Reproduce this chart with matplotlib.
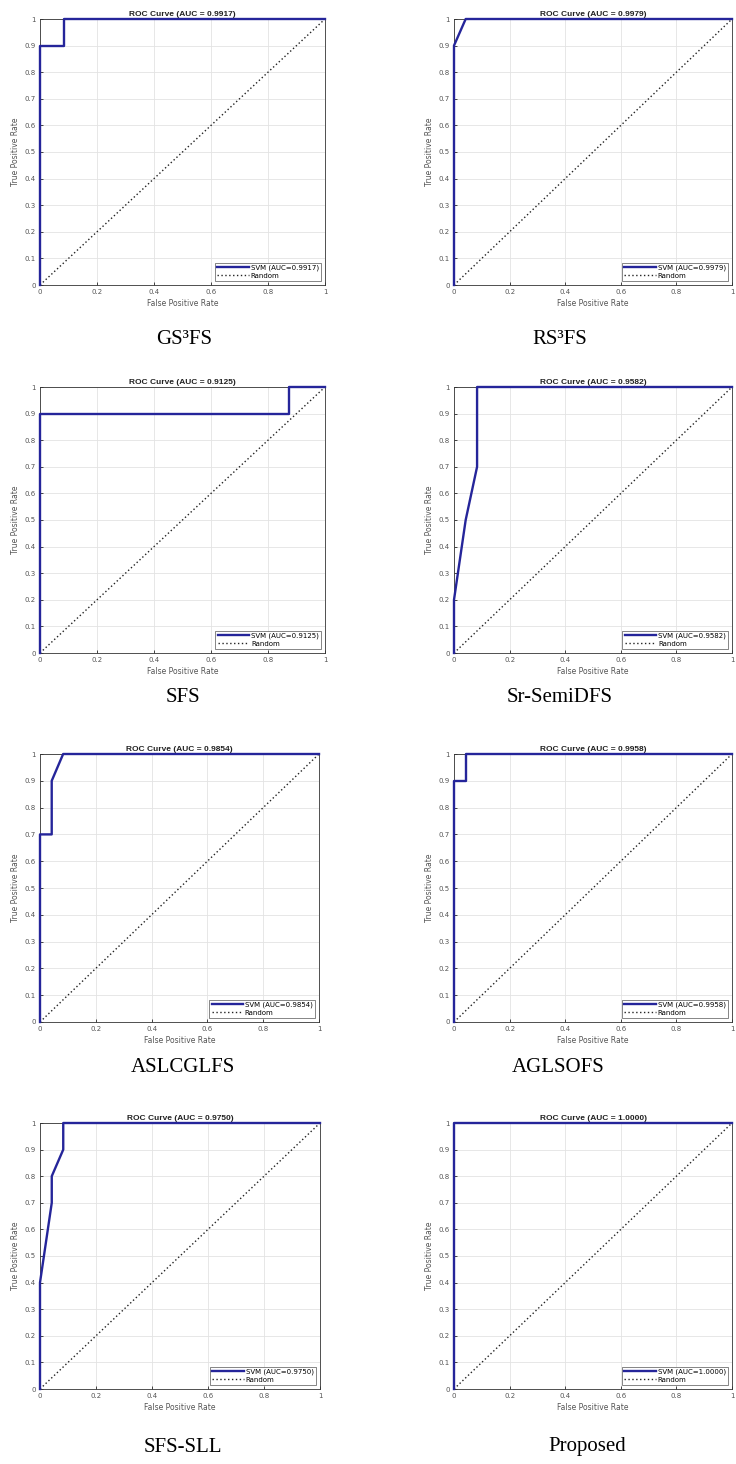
import numpy as np
import matplotlib
matplotlib.use('Agg')
import matplotlib.pyplot as plt

# data
methods = ['GS³FS', 'RS³FS', 'SFS', 'Sr-SemiDFS',
           'ASLCGLFS', 'AGLSOFS', 'SFS-SLL', 'Proposed']
auc_values = [0.9917, 0.9979, 0.9125, 0.9582, 0.9854, 0.9958, 0.9750, 1.0000]

fpr_gs3fs = [0, 0, 0.083, 0.083, 1]
tpr_gs3fs = [0, 0.9, 0.9, 1, 1]
fpr_rs3fs = [0, 0, 0.042, 1]
tpr_rs3fs = [0, 0.9, 1, 1]
fpr_sfs = [0, 0, 0.875, 0.875, 1]
tpr_sfs = [0, 0.9, 0.9, 1, 1]
fpr_srsemi = [0, 0, 0.042, 0.083, 0.083, 1]
tpr_srsemi = [0, 0.2, 0.5, 0.7, 1, 1]
fpr_aslcgl = [0, 0, 0.042, 0.042, 0.083, 1]
tpr_aslcgl = [0, 0.7, 0.7, 0.9, 1, 1]
fpr_aglsofs = [0, 0, 0.042, 0.042, 1]
tpr_aglsofs = [0, 0.9, 0.9, 1, 1]
fpr_sfssll = [0, 0, 0.042, 0.042, 0.083, 0.083, 1]
tpr_sfssll = [0, 0.4, 0.7, 0.8, 0.9, 1, 1]
fpr_prop = [0, 0, 1]
tpr_prop = [0, 1, 1]

fprs = [fpr_gs3fs, fpr_rs3fs, fpr_sfs, fpr_srsemi,
        fpr_aslcgl, fpr_aglsofs, fpr_sfssll, fpr_prop]
tprs = [tpr_gs3fs, tpr_rs3fs, tpr_sfs, tpr_srsemi,
        tpr_aslcgl, tpr_aglsofs, tpr_sfssll, tpr_prop]

x_ticks = [0, 0.2, 0.4, 0.6, 0.8, 1]
y_ticks = [0, 0.1, 0.2, 0.3, 0.4, 0.5, 0.6, 0.7, 0.8, 0.9, 1]

# layout in pixels: (left, right, top, bottom) of each axes
W, H = 736, 1464
boxes = [(40, 325, 19, 285), (454, 732, 19, 285),
         (40, 325, 387, 653), (454, 732, 387, 653),
         (40, 319, 754, 1022), (454, 732, 754, 1022),
         (40, 320, 1123, 1389), (454, 732, 1123, 1389)]
captions_xy = [(184, 339), (560, 339), (183, 697), (560, 697),
               (183, 1068), (558, 1068), (183, 1447), (587, 1447)]

roc_col = '#25259a'

fig = plt.figure(figsize=(W/100, H/100), dpi=100)

for k in range(len(methods)):
    l, r, t, b = boxes[k]
    ax = fig.add_axes([l/W, 1 - b/H, (r - l)/W, (b - t)/H])
    ax.plot(fprs[k], tprs[k], color=roc_col, lw=1.7,
            label='SVM (AUC=%.4f)' % auc_values[k], zorder=5, clip_on=False)
    ax.plot([0, 1], [0, 1], color='#222222', lw=1.0, ls=(0, (1, 1.8)),
            label='Random', zorder=2)
    ax.set_xlim(0, 1)
    ax.set_ylim(0, 1)
    ax.set_xticks(x_ticks)
    ax.set_yticks(y_ticks)
    ax.set_xticklabels(['%g' % v for v in x_ticks])
    ax.set_yticklabels(['%g' % v for v in y_ticks])
    ax.tick_params(direction='in', length=2, width=0.5, labelsize=5,
                   labelcolor='#555555', pad=3)
    ax.grid(True, color='#e3e3e3', lw=0.6)
    for s in ax.spines.values():
        s.set_linewidth(0.6)
        s.set_color('#333333')
    ax.set_title('ROC Curve (AUC = %.4f)' % auc_values[k], fontsize=6,
                 fontweight='bold', family='Liberation Sans', pad=2,
                 color='#222222')
    ax.set_xlabel('False Positive Rate', fontsize=5.5, color='#555555',
                  labelpad=3)
    ax.set_ylabel('True Positive Rate', fontsize=5.5, color='#555555',
                  labelpad=3)
    leg = ax.legend(loc='lower right', fontsize=5, handlelength=4.5,
                    fancybox=False, framealpha=1, borderpad=0.3,
                    labelspacing=0.2, handletextpad=0.3, borderaxespad=0.6)
    leg.get_frame().set_edgecolor('#555555')
    leg.get_frame().set_linewidth(0.5)

    cx, cy = captions_xy[k]
    fig.text(cx/W, 1 - cy/H, methods[k], ha='center', va='center',
             fontsize=15, family='Liberation Serif')

plt.savefig('out.png', dpi=100)
